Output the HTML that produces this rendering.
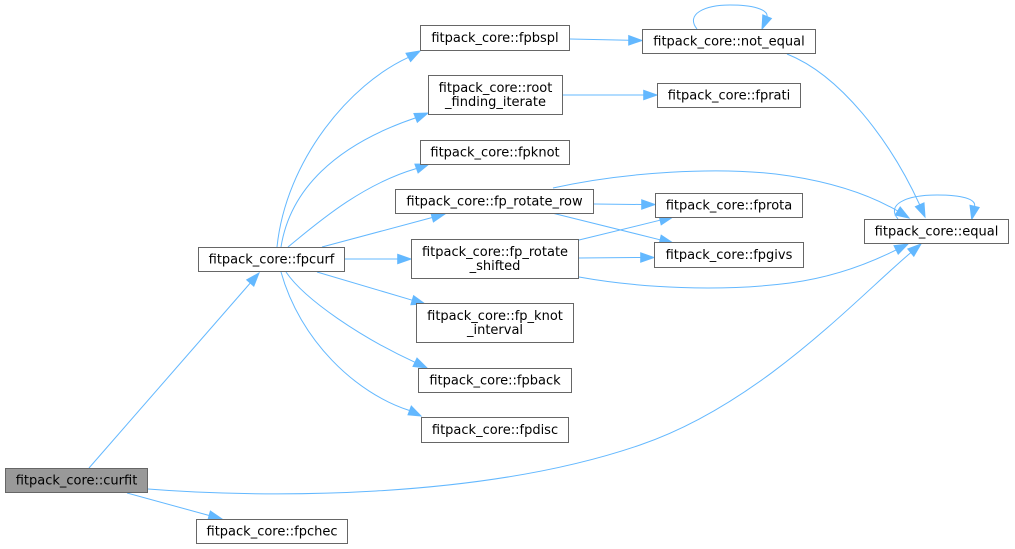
<!DOCTYPE html>
<html><head><meta charset="utf-8"><style>
html,body{margin:0;padding:0;background:#fff;}
svg{display:block;}
text{font-family:"DejaVu Sans","Liberation Sans",sans-serif;font-size:13px;fill:#000;text-anchor:middle;}
.b{fill:#fff;stroke:#666;stroke-width:1;}
.e{fill:none;stroke:#63b8ff;stroke-width:1;}
.a{fill:#63b8ff;stroke:#63b8ff;stroke-width:1;}
</style></head><body>
<svg width="1015" height="549" viewBox="0 0 1015 549" xmlns="http://www.w3.org/2000/svg">
<!-- edges -->
<path class="e" d="M89,468 L250.3,283"/>
<polygon class="a" points="259,273 253.8,286.1 246.7,279.9"/>
<path class="e" d="M127,493 L209.2,515.5"/>
<polygon class="a" points="222,519 207.9,520 210.4,511"/>
<path class="e" d="M148,489 C260,498 480,500 640,445 C760,404 855,300 910.8,252.6"/>
<polygon class="a" points="921,244 913.8,256.2 907.8,249"/>
<path class="e" d="M277,247 C286,160 350,84 408.3,57.4"/>
<polygon class="a" points="420,51 410.6,61.5 406,53.3"/>
<path class="e" d="M281,247 C290,190 335,145 415.6,117.9"/>
<polygon class="a" points="428,113 417.3,122.3 413.9,113.5"/>
<path class="e" d="M288,247 C315,225 360,185 416.5,168.5"/>
<polygon class="a" points="429,164 418.1,172.9 414.9,164.1"/>
<path class="e" d="M322,247 L432.2,217.5"/>
<polygon class="a" points="445,214 433.4,222 430.9,212.9"/>
<path class="e" d="M345,259 L397.7,259"/>
<polygon class="a" points="411,259 397.7,263.7 397.7,254.3"/>
<path class="e" d="M317,272 L412.2,300.2"/>
<polygon class="a" points="425,304 410.9,304.7 413.6,295.7"/>
<path class="e" d="M286,272 C305,300 362,338 415,362.3"/>
<polygon class="a" points="427,368 413,366.5 417,358.1"/>
<path class="e" d="M281,272 C300,340 355,393 409.5,410.5"/>
<polygon class="a" points="421,416 408,414.8 411.3,406"/>
<path class="e" d="M570,39 L628.7,40.3"/>
<polygon class="a" points="642,40.5 628.7,45 628.7,35.6"/>
<path class="e" d="M697,29 C685,14 705,5 730,5 C752,5 768,9 767.1,16.7"/>
<polygon class="a" points="762,29 771.4,18.5 762.8,14.9"/>
<path class="e" d="M787,54 C840,75 890,140 919.7,204.8"/>
<polygon class="a" points="925,217 915.4,206.7 924,202.9"/>
<path class="e" d="M563,95 L643.7,95"/>
<polygon class="a" points="657,95 643.7,99.7 643.7,90.3"/>
<path class="e" d="M594,204 L641.7,204.5"/>
<polygon class="a" points="655,204.5 641.7,209.2 641.7,199.8"/>
<path class="e" d="M552,213 L660.1,239.8"/>
<polygon class="a" points="673,243 659,244.4 661.2,235.2"/>
<path class="e" d="M553,188 C620,173 720,165 790,176 C835,183 870,195 897.7,211"/>
<polygon class="a" points="909,218 895.2,215 900.2,207"/>
<path class="e" d="M579,240 L660.1,220.2"/>
<polygon class="a" points="673,217 661.2,224.8 659,215.6"/>
<path class="e" d="M579,258 L640.7,257.5"/>
<polygon class="a" points="654,257.5 640.7,262.2 640.7,252.8"/>
<path class="e" d="M579,277 C640,288 720,292 790,283 C835,277 870,263 896.1,249.9"/>
<polygon class="a" points="908,244 898.2,254.1 894,245.7"/>
<path class="e" d="M898,219 C886,205 905,195 937,195 C962,195 976,199 974.6,206.3"/>
<polygon class="a" points="971.7,219.3 979.2,207.4 970,205.3"/>
<!-- nodes -->
<rect x="5.5" y="468.5" width="142" height="24" style="fill:#999;stroke:#666;stroke-width:1"/>
<text x="76.5" y="484.5">fitpack_core::curfit</text>
<rect class="b" x="198.5" y="247.5" width="146" height="24"/>
<text x="271.5" y="263.5">fitpack_core::fpcurf</text>
<rect class="b" x="196.5" y="519.5" width="151" height="24"/>
<text x="272" y="535.5">fitpack_core::fpchec</text>
<rect class="b" x="420.5" y="25.5" width="149" height="25"/>
<text x="495" y="42">fitpack_core::fpbspl</text>
<rect class="b" x="642.5" y="29.5" width="173" height="24"/>
<text x="729" y="45.5">fitpack_core::not_equal</text>
<rect class="b" x="428.5" y="75.5" width="134" height="39"/>
<text x="495.5" y="92">fitpack_core::root</text>
<text x="495.5" y="106">_finding_iterate</text>
<rect class="b" x="657.5" y="83.5" width="143" height="24"/>
<text x="729" y="99.5">fitpack_core::fprati</text>
<rect class="b" x="420.5" y="140.5" width="149" height="24"/>
<text x="495" y="156.5">fitpack_core::fpknot</text>
<rect class="b" x="395.5" y="189.5" width="198" height="24"/>
<text x="494.5" y="205.5">fitpack_core::fp_rotate_row</text>
<rect class="b" x="655.5" y="193.5" width="147" height="24"/>
<text x="729" y="209.5">fitpack_core::fprota</text>
<rect class="b" x="411.5" y="239.5" width="167" height="39"/>
<text x="495" y="256">fitpack_core::fp_rotate</text>
<text x="495" y="270">_shifted</text>
<rect class="b" x="654.5" y="242.5" width="149" height="25"/>
<text x="729" y="259">fitpack_core::fpgivs</text>
<rect class="b" x="416.5" y="303.5" width="157" height="39"/>
<text x="495" y="320">fitpack_core::fp_knot</text>
<text x="495" y="334">_interval</text>
<rect class="b" x="418.5" y="368.5" width="153" height="24"/>
<text x="495" y="384.5">fitpack_core::fpback</text>
<rect class="b" x="421.5" y="417.5" width="147" height="25"/>
<text x="495" y="434">fitpack_core::fpdisc</text>
<rect class="b" x="864.5" y="219.5" width="144" height="24"/>
<text x="936.5" y="235.5">fitpack_core::equal</text>
</svg>
</body></html>
